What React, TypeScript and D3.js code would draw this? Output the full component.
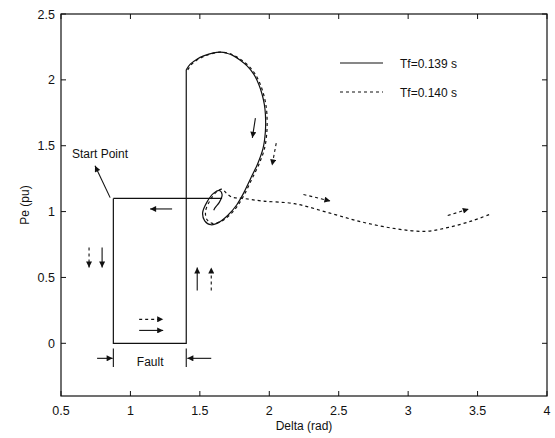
import React from 'react';
import * as d3 from 'd3';

// chart geometry
const W = 555;
const H = 438;
const margin = { top: 14, right: 8, bottom: 42, left: 61 };

// axis ticks
const xTicks = [0.5, 1, 1.5, 2, 2.5, 3, 3.5, 4];
const yTicks = [0, 0.5, 1, 1.5, 2, 2.5];

// fault rectangle: start point -> fault -> clearing
const faultPath: [number, number][] = [
  [0.877, 1.1], [0.877, 0], [1.402, 0], [1.402, 2.076],
];

// pre-fault operating line
const prefaultLine: [number, number][] = [[0.877, 1.1], [1.66, 1.1]];

// post-fault swing (shared part of both runs)
const swing: [number, number][] = [
  [1.402, 2.076], [1.431, 2.119], [1.479, 2.157], [1.527, 2.182], [1.599, 2.205],
  [1.647, 2.21], [1.695, 2.202], [1.743, 2.182], [1.791, 2.149], [1.84, 2.106],
  [1.888, 2.043], [1.924, 1.967], [1.948, 1.891], [1.964, 1.816], [1.972, 1.74],
  [1.972, 1.61], [1.955, 1.48], [1.915, 1.36], [1.865, 1.25], [1.815, 1.14],
  [1.765, 1.05],
];

// Tf = 0.139 s (stable) tail
const stableTail: [number, number][] = [
  [1.7, 0.97], [1.64, 0.92], [1.58, 0.9], [1.535, 0.93], [1.52, 0.99],
  [1.55, 1.07], [1.6, 1.14], [1.64, 1.16], [1.66, 1.13], [1.64, 1.07],
  [1.61, 1.03], [1.6, 1.01],
];

// Tf = 0.140 s (unstable) tail
const unstableTail: [number, number][] = [
  [1.7, 0.97], [1.64, 0.925], [1.58, 0.91], [1.54, 0.94], [1.53, 1.0],
  [1.56, 1.08], [1.61, 1.15], [1.65, 1.17], [1.68, 1.14], [1.72, 1.11],
  [1.8, 1.1], [1.94, 1.08], [2.17, 1.06], [2.42, 0.99], [2.66, 0.92],
  [2.9, 0.87], [3.11, 0.85], [3.28, 0.88], [3.45, 0.93], [3.58, 0.98],
];

// direction arrows [x1, y1, x2, y2, dashed]
const arrows: [number, number, number, number, boolean][] = [
  [0.854, 1.106, 0.745, 1.348, false],
  [1.3, 1.02, 1.142, 1.02, false],
  [0.702, 0.727, 0.702, 0.576, true],
  [0.796, 0.727, 0.796, 0.576, false],
  [1.481, 0.4, 1.481, 0.576, false],
  [1.582, 0.4, 1.582, 0.576, true],
  [1.063, 0.182, 1.236, 0.182, true],
  [1.063, 0.098, 1.236, 0.098, false],
  [0.76, -0.114, 0.872, -0.114, false],
  [1.582, -0.114, 1.41, -0.114, false],
  [1.9, 1.71, 1.878, 1.56, false],
  [2.05, 1.52, 2.02, 1.35, true],
  [2.246, 1.13, 2.44, 1.08, true],
  [3.285, 0.97, 3.437, 1.02, true],
];

// fault boundary ticks
const faultMarks = [0.877, 1.402];

const App = () => {
  const x = d3.scaleLinear().domain([0.5, 4]).range([margin.left, W - margin.right]);
  const y = d3.scaleLinear().domain([-0.4, 2.5]).range([H - margin.bottom, margin.top]);

  const straight = d3.line<[number, number]>().x(d => x(d[0])).y(d => y(d[1]));
  const smooth = d3.line<[number, number]>()
    .x(d => x(d[0])).y(d => y(d[1]))
    .curve(d3.curveCatmullRom.alpha(0.5));

  const x0 = x.range()[0], x1 = x.range()[1];
  const y0 = y.range()[0], y1 = y.range()[1];
  const font = '"Liberation Sans", Arial, Helvetica, sans-serif';
  const dash = '3,3';

  return (
    <svg width={W} height={H} style={{ position: 'absolute', left: 0, top: 0, background: '#fff' }}
      fontFamily={font}>
      <defs>
        <marker id="head" viewBox="0 0 10 10" refX="10" refY="5" markerWidth="7" markerHeight="6"
          orient="auto" markerUnits="userSpaceOnUse">
          <path d="M0,0 L10,5 L0,10 z" fill="#111" />
        </marker>
      </defs>

      {/* box */}
      <rect x={x0} y={y1} width={x1 - x0} height={y0 - y1} fill="none" stroke="#111" strokeWidth={1.2} />

      {/* ticks */}
      {xTicks.map(t => (
        <g key={'x' + t}>
          <line x1={x(t)} x2={x(t)} y1={y0} y2={y0 - 5} stroke="#111" />
          <line x1={x(t)} x2={x(t)} y1={y1} y2={y1 + 5} stroke="#111" />
          <text x={x(t)} y={y0 + 19} textAnchor="middle" fontSize={12.5} fill="#111">{t}</text>
        </g>
      ))}
      {yTicks.map(t => (
        <g key={'y' + t}>
          <line x1={x0} x2={x0 + 5} y1={y(t)} y2={y(t)} stroke="#111" />
          <line x1={x1} x2={x1 - 5} y1={y(t)} y2={y(t)} stroke="#111" />
          <text x={x0 - 6} y={y(t) + 4.5} textAnchor="end" fontSize={12.5} fill="#111">{t}</text>
        </g>
      ))}

      {/* axis titles */}
      <text x={304} y={430} textAnchor="middle" fontSize={12} fill="#111">Delta (rad)</text>
      <text transform={`translate(29,${(y0 + y1) / 2}) rotate(-90)`} textAnchor="middle" fontSize={12} fill="#111">Pe (pu)</text>

      {/* curves */}
      <path d={straight(prefaultLine) ?? ''} fill="none" stroke="#111" strokeWidth={1.2} />
      <path d={straight(faultPath) ?? ''} fill="none" stroke="#111" strokeWidth={1.2} />
      <path d={smooth([...swing, ...stableTail]) ?? ''} fill="none" stroke="#111" strokeWidth={1.2} />
      <path d={smooth([...swing, ...unstableTail]) ?? ''} fill="none" stroke="#111" strokeWidth={1.2}
        strokeDasharray={dash} transform="translate(1.5,0)" />

      {/* arrows */}
      {arrows.map((a, i) => (
        <line key={'a' + i} x1={x(a[0])} y1={y(a[1])} x2={x(a[2])} y2={y(a[3])}
          stroke="#111" strokeWidth={1.1} strokeDasharray={a[4] ? dash : undefined}
          markerEnd="url(#head)" />
      ))}

      {/* fault labels */}
      {faultMarks.map(m => (
        <line key={'f' + m} x1={x(m)} x2={x(m)} y1={y(-0.04)} y2={y(-0.18)} stroke="#111" strokeWidth={1.1} />
      ))}
      <text x={x(1.142)} y={y(-0.174)} textAnchor="middle" fontSize={12} fill="#111">Fault</text>
      <text x={x(0.579)} y={y(1.41)} fontSize={12} fill="#111">Start Point</text>

      {/* legend */}
      <line x1={340} x2={383} y1={63} y2={63} stroke="#111" strokeWidth={1.2} />
      <text x={400} y={67.5} fontSize={12} fill="#111">Tf=0.139 s</text>
      <line x1={340} x2={383} y1={92} y2={92} stroke="#111" strokeWidth={1.2} strokeDasharray={dash} />
      <text x={400} y={96.5} fontSize={12} fill="#111">Tf=0.140 s</text>
    </svg>
  );
};

export default App;
